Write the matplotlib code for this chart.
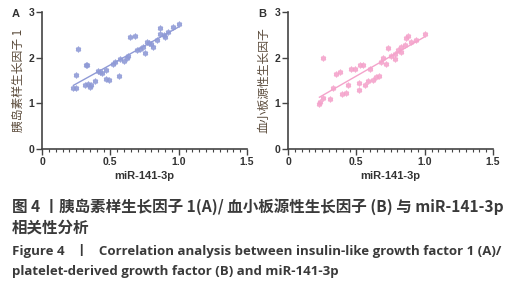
import matplotlib
matplotlib.use("Agg")
import matplotlib.pyplot as plt
import numpy as np
from matplotlib.ticker import MultipleLocator

plt.rcParams['font.family'] = ['Liberation Sans', 'Noto Sans CJK SC', 'DejaVu Sans']

# panel A: insulin-like growth factor 1 vs miR-141-3p
mir_a = [0.26, 0.25, 0.23, 0.25, 0.32, 0.33, 0.34, 0.36, 0.39, 0.41, 0.425, 0.47,
         0.47, 0.49, 0.52, 0.56, 0.535, 0.57, 0.62, 0.645, 0.68, 0.63, 0.72, 0.74,
         0.755, 0.78, 0.80, 0.815, 0.84, 0.86, 0.89, 0.90, 0.925, 0.96, 1.00, 0.77,
         0.865, 0.695, 0.315, 0.35, 0.44, 0.60]
igf1 = [2.18, 1.62, 1.33, 1.33, 1.83, 1.85, 1.43, 1.40, 1.49, 1.71, 1.69, 1.53,
        1.73, 1.51, 1.87, 1.60, 1.91, 1.96, 2.00, 2.45, 2.47, 2.03, 2.20, 2.24,
        2.10, 2.32, 2.31, 2.24, 2.38, 2.65, 2.49, 2.45, 2.56, 2.67, 2.73, 2.34,
        2.52, 2.17, 1.40, 1.36, 1.66, 1.93]

# panel B: platelet-derived growth factor vs miR-141-3p
mir_b = [0.256, 0.237, 0.23, 0.256, 0.31, 0.33, 0.354, 0.378, 0.395, 0.427, 0.44,
         0.463, 0.488, 0.524, 0.517, 0.517, 0.55, 0.56, 0.585, 0.62, 0.646, 0.663,
         0.678, 0.72, 0.73, 0.756, 0.78, 0.805, 0.83, 0.853, 0.878, 0.866, 0.90,
         0.94, 1.00, 0.78, 0.83, 0.695, 0.598]
pdgf = [2.00, 1.02, 0.98, 1.11, 1.09, 1.33, 1.65, 1.69, 1.20, 1.22, 1.40, 1.75,
        1.76, 1.84, 1.45, 1.30, 1.84, 1.40, 1.49, 1.52, 1.58, 1.60, 1.91, 1.87,
        2.21, 2.03, 2.09, 2.16, 2.24, 2.27, 2.47, 2.42, 2.35, 2.38, 2.51, 1.96,
        2.13, 2.00, 1.76]

panels = [
    ("A", mir_a, igf1, "胰岛素样生长因子 1", "#8f9ad6", 42),
    ("B", mir_b, pdgf, "血小板源性生长因子", "#f4a3cb", 288),
]

fig = plt.figure(figsize=(5.21, 3.0), dpi=100)
W, H = 521, 300
axis_col = "#444444"

for letter, x, y, ylab, col, left in panels:
    ax = fig.add_axes([left / W, (H - 149) / H, 205 / W, 137 / H])
    x = np.array(x)
    y = np.array(y)
    ax.scatter(x, y, s=9, marker=(6, 2, 0), color=col, linewidths=1.2,
               alpha=0.9, zorder=3)
    k, b = np.polyfit(x, y, 1)
    xs = np.array([x.min(), x.max()])
    ax.plot(xs, k * xs + b, color=col, lw=1.0, zorder=2)

    ax.set_xlim(0, 1.5)
    ax.set_ylim(0, 3)
    ax.set_xticks([0, 0.5, 1.0, 1.5])
    ax.set_xticklabels(["0", "0.5", "1.0", "1.5"])
    ax.set_yticks([0, 1, 2, 3])
    ax.xaxis.set_minor_locator(MultipleLocator(0.05))
    for s in ("top", "right"):
        ax.spines[s].set_visible(False)
    for s in ("left", "bottom"):
        ax.spines[s].set_color(axis_col)
        ax.spines[s].set_linewidth(1.2)
    ax.tick_params(which="major", length=4, width=1.0, color=axis_col,
                   labelsize=7.5, labelcolor="#333333", pad=1.5)
    ax.tick_params(which="minor", length=2.5, width=0.8, color=axis_col)
    for t in ax.get_xticklabels() + ax.get_yticklabels():
        t.set_fontweight("bold")
    ax.set_xlabel("miR-141-3p", fontsize=8, fontweight="bold", color="#333333", labelpad=3)
    ax.set_ylabel(ylab, fontsize=8.5, color="#5a4a3a", labelpad=3,
                  family=["Noto Sans CJK SC", "DejaVu Sans"])
    fig.text((left - 30) / W, (H - 14) / H, letter, fontsize=8, fontweight="bold",
             color="#333333", ha="left", va="center")

cap_col = "#3a3a3a"
cjk = ["Noto Sans CJK SC", "DejaVu Sans"]
fig.text(12 / W, (H - 207) / H,
         "图 4 丨胰岛素样生长因子 1(A)/ 血小板源性生长因子 (B) 与 miR-141-3p",
         fontsize=11.2, color=cap_col, family=cjk, fontweight="bold", va="center")
fig.text(12 / W, (H - 228) / H, "相关性分析",
         fontsize=11.2, color=cap_col, family=cjk, fontweight="bold", va="center")
fig.text(12 / W, (H - 251) / H,
         "Figure 4   丨   Correlation analysis between insulin-like growth factor 1 (A)/",
         fontsize=9.5, color=cap_col, family=["Open Sans", "Noto Sans CJK SC"],
         fontweight="bold", va="center")
fig.text(12 / W, (H - 272) / H,
         "platelet-derived growth factor (B) and miR-141-3p",
         fontsize=9.5, color=cap_col, family=["Open Sans", "Noto Sans CJK SC"],
         fontweight="bold", va="center")

fig.savefig("out.png", dpi=100)
